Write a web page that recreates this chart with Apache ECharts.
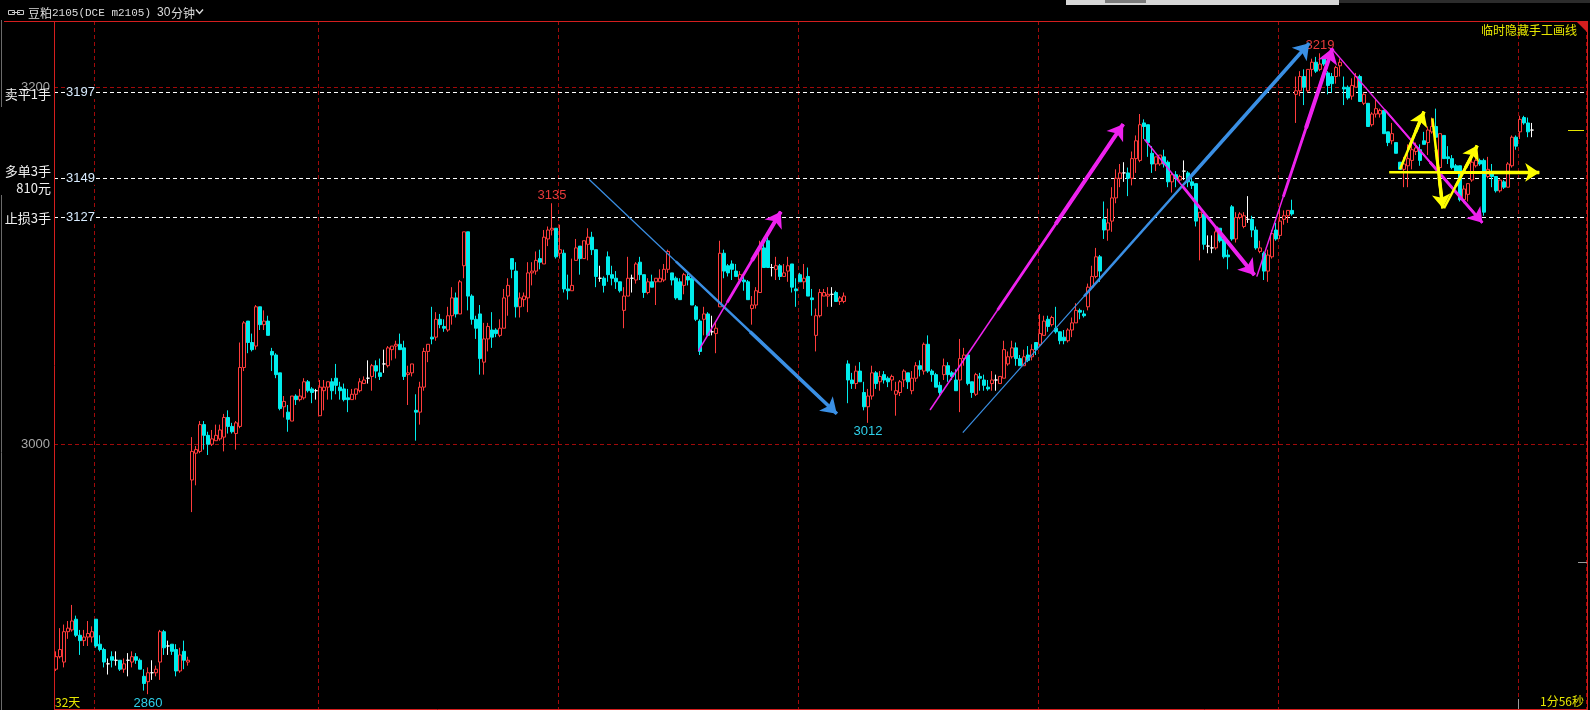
<!DOCTYPE html>
<html><head><meta charset="utf-8">
<script src="https://cdn.jsdelivr.net/npm/echarts@6/dist/echarts.min.js"></script>
<style>html,body{margin:0;padding:0;background:#000;overflow:hidden}#c{width:1590px;height:710px}</style>
</head><body><div id="c"></div>
<script>
// ---------- DATA ----------
const opens = [
2874,2881,2878,2895,2896,2902,2893,2890,2892,2892,
2902,2888,2885,2877,2881,2879,2879,2874,2879,2878,
2881,2879,2870,2867,2872,2872,2878,2895,2887,2888,
2885,2873,2884,2878,2980,2995,2996,3011,3005,3000,
3002,3003,3004,3015,3010,3006,3010,3043,3069,3057,
3055,3077,3067,3069,3052,3050,3040,3021,3018,3013,
3027,3025,3026,3035,3031,3030,3016,3030,3032,3035,
3037,3032,3031,3026,3025,3028,3030,3034,3037,3038,
3044,3040,3045,3044,3053,3055,3056,3054,3039,3040,
3019,3018,3032,3052,3060,3060,3070,3066,3064,3072,
3082,3073,3100,3119,3083,3070,3073,3046,3059,3064,
3064,3061,3065,3083,3104,3097,3077,3081,3082,3096,
3097,3104,3101,3115,3120,3121,3107,3107,3087,3086,
3103,3111,3104,3112,3116,3109,3093,3093,3105,3095,
3093,3091,3075,3083,3093,3092,3102,3095,3085,3091,
3091,3091,3092,3098,3096,3093,3091,3089,3094,3093,
3077,3069,3070,3073,3063,3062,3077,3107,3100,3101,
3097,3092,3092,3091,3076,3078,3085,3110,3114,3099,
3098,3100,3094,3097,3101,3087,3095,3091,3094,3082,
3061,3072,3083,3083,3084,3085,3080,3080,3045,3036,
3034,3041,3029,3021,3027,3040,3035,3039,3037,3036,
3028,3029,3036,3040,3030,3037,3044,3041,3056,3041,
3039,3033,3039,3044,3040,3036,3036,3048,3050,3035,
3028,3038,3036,3032,3034,3036,3034,3037,3045,3049,
3054,3048,3044,3050,3049,3057,3056,3061,3070,3067,
3065,3063,3060,3058,3064,3068,3075,3073,3077,3088,
3094,3105,3126,3120,3125,3138,3149,3152,3152,3149,
3160,3159,3180,3179,3163,3157,3157,3161,3158,3147,
3151,3148,3153,3152,3147,3146,3127,3129,3111,3110,
3110,3121,3115,3106,3133,3115,3127,3122,3126,3126,
3120,3108,3107,3097,3105,3120,3117,3126,3128,3131,
3196,3198,3206,3198,3210,3214,3210,3217,3208,3206,
3206,3212,3200,3200,3195,3200,3206,3191,3191,3179,
3185,3185,3187,3175,3170,3169,3158,3154,3156,3159,
3164,3165,3170,3169,3175,3178,3155,3173,3161,3160,
3156,3156,3137,3140,3148,3156,3159,3159,3150,3152,
3150,3142,3147,3144,3156,3172,3175,3183,3180,3176];
const closes = [
2881,2885,2895,2897,2901,2893,2890,2892,2894,2895,
2887,2885,2878,2877,2879,2879,2874,2877,2879,2881,
2879,2874,2866,2872,2872,2874,2895,2886,2887,2884,
2873,2882,2879,2879,2996,2997,3011,3005,3000,3003,
3005,3008,3015,3010,3007,3012,3043,3068,3057,3053,
3077,3067,3069,3061,3050,3039,3020,3024,3014,3027,
3025,3027,3035,3030,3029,3030,3032,3032,3035,3030,
3033,3030,3025,3025,3028,3031,3035,3036,3037,3044,
3041,3038,3045,3054,3055,3056,3053,3038,3040,3045,
3018,3032,3052,3056,3059,3070,3067,3065,3072,3082,
3073,3091,3119,3083,3070,3065,3048,3059,3066,3060,
3062,3065,3082,3089,3098,3077,3082,3083,3096,3097,
3103,3102,3116,3120,3121,3105,3109,3087,3086,3089,
3110,3104,3114,3116,3109,3094,3093,3089,3095,3093,
3091,3086,3083,3093,3093,3101,3095,3085,3091,3088,
3093,3093,3098,3108,3092,3082,3081,3095,3092,3078,
3070,3052,3073,3061,3063,3065,3107,3097,3096,3098,
3094,3095,3091,3081,3078,3086,3110,3099,3099,3099,
3100,3094,3096,3100,3088,3086,3091,3093,3083,3081,
3072,3085,3085,3084,3084,3080,3082,3083,3036,3034,
3041,3035,3021,3027,3040,3034,3038,3036,3035,3038,
3030,3035,3041,3035,3037,3044,3042,3056,3041,3039,
3032,3029,3044,3039,3038,3030,3048,3050,3034,3029,
3039,3037,3033,3031,3036,3036,3038,3053,3049,3054,
3048,3044,3049,3047,3053,3053,3062,3069,3066,3071,
3063,3058,3058,3064,3068,3075,3074,3072,3088,3094,
3105,3097,3120,3124,3138,3149,3152,3152,3149,3160,
3170,3179,3178,3169,3157,3161,3162,3157,3147,3151,
3149,3150,3153,3147,3145,3125,3130,3112,3111,3110,
3119,3114,3105,3105,3115,3127,3129,3128,3126,3120,
3110,3110,3097,3106,3118,3115,3125,3128,3131,3129,
3198,3206,3200,3210,3214,3209,3213,3213,3201,3202,
3211,3214,3199,3194,3201,3206,3192,3196,3178,3185,
3188,3187,3174,3169,3174,3163,3154,3157,3160,3165,
3166,3159,3168,3176,3178,3172,3174,3160,3160,3155,
3153,3137,3143,3146,3158,3159,3157,3130,3154,3150,
3142,3148,3144,3157,3172,3167,3182,3180,3175,3176];
const lows = [
2873,2880,2875,2891,2895,2892,2882,2887,2887,2889,
2886,2884,2875,2871,2875,2876,2873,2872,2870,2875,
2877,2874,2862,2860,2868,2870,2868,2882,2882,2882,
2870,2872,2874,2876,2962,2977,2995,2997,2994,2999,
3002,3002,2996,3006,3006,2997,3009,3041,3051,3052,
3053,3064,3064,3061,3041,3037,3019,3015,3007,3013,
3022,3024,3025,3029,3023,3025,3016,3019,3025,3025,
3028,3025,3024,3018,3025,3025,3029,3034,3034,3030,
3037,3036,3040,3043,3047,3048,3053,3036,3022,3038,
3002,3011,3030,3046,3056,3058,3065,3063,3063,3067,
3071,3073,3093,3075,3067,3059,3039,3039,3052,3054,
3060,3060,3065,3072,3093,3071,3071,3077,3074,3089,
3095,3098,3101,3111,3117,3104,3104,3085,3081,3086,
3103,3095,3104,3103,3106,3088,3091,3085,3091,3089,
3087,3085,3065,3083,3085,3090,3092,3082,3084,3088,
3078,3091,3091,3096,3089,3081,3081,3084,3089,3078,
3069,3050,3061,3061,3061,3051,3077,3093,3094,3092,
3094,3090,3086,3081,3067,3076,3085,3099,3099,3094,
3092,3092,3094,3091,3085,3077,3091,3087,3083,3072,
3052,3071,3083,3077,3077,3080,3078,3079,3023,3031,
3031,3035,3019,3012,3025,3031,3030,3034,3032,3030,
3016,3027,3032,3031,3028,3035,3038,3039,3040,3035,
3032,3027,3036,3035,3036,3030,3018,3044,3033,3026,
3027,3030,3030,3030,3030,3030,3034,3037,3044,3048,
3044,3044,3044,3046,3047,3050,3055,3061,3063,3066,
3062,3056,3056,3057,3060,3068,3070,3071,3075,3087,
3093,3091,3115,3114,3119,3135,3144,3147,3139,3145,
3152,3158,3171,3161,3152,3153,3156,3155,3144,3141,
3144,3147,3148,3144,3143,3122,3103,3109,3107,3107,
3109,3113,3104,3098,3114,3113,3126,3121,3124,3116,
3109,3107,3092,3091,3104,3114,3115,3123,3124,3128,
3180,3195,3190,3197,3206,3208,3209,3212,3196,3197,
3202,3206,3190,3193,3193,3200,3192,3190,3178,3178,
3183,3183,3174,3167,3168,3163,3154,3144,3144,3154,
3162,3156,3168,3162,3174,3168,3152,3160,3157,3154,
3152,3136,3135,3136,3147,3155,3156,3128,3149,3144,
3141,3141,3143,3144,3155,3165,3171,3179,3172,3172];
const highs = [
2884,2897,2899,2901,2910,2904,2896,2896,2901,2898,
2902,2893,2886,2880,2884,2884,2879,2880,2883,2884,
2883,2880,2874,2875,2879,2876,2896,2896,2890,2888,
2888,2886,2890,2881,3004,2999,3013,3013,3007,3008,
3011,3011,3017,3019,3012,3013,3057,3069,3069,3062,
3078,3077,3075,3072,3054,3051,3040,3027,3022,3027,
3028,3031,3037,3036,3032,3031,3036,3036,3035,3037,
3045,3035,3034,3031,3031,3031,3037,3038,3047,3045,
3047,3048,3053,3055,3055,3058,3062,3058,3044,3045,
3028,3035,3054,3056,3077,3074,3073,3070,3077,3088,
3085,3092,3119,3119,3084,3072,3078,3068,3068,3074,
3065,3070,3087,3093,3104,3102,3085,3085,3102,3102,
3108,3109,3120,3122,3135,3121,3123,3109,3095,3104,
3115,3111,3114,3121,3119,3109,3100,3094,3108,3100,
3097,3091,3088,3105,3095,3102,3105,3095,3093,3095,
3093,3098,3101,3109,3096,3094,3093,3096,3096,3094,
3078,3070,3077,3074,3072,3069,3114,3109,3101,3103,
3101,3097,3095,3092,3083,3088,3114,3113,3116,3101,
3105,3101,3101,3105,3101,3093,3096,3101,3099,3087,
3076,3087,3087,3088,3088,3086,3083,3085,3047,3040,
3044,3046,3035,3031,3044,3041,3041,3041,3038,3039,
3035,3036,3042,3040,3041,3046,3047,3057,3061,3042,
3040,3035,3048,3046,3041,3042,3059,3054,3050,3035,
3040,3040,3039,3036,3041,3039,3038,3058,3052,3058,
3057,3050,3053,3055,3056,3057,3073,3072,3072,3072,
3077,3063,3064,3065,3071,3079,3076,3075,3090,3100,
3110,3106,3136,3132,3144,3154,3157,3158,3155,3164,
3173,3185,3182,3179,3167,3161,3162,3165,3159,3152,
3153,3151,3159,3153,3149,3146,3130,3129,3117,3117,
3120,3121,3115,3109,3134,3130,3130,3130,3139,3128,
3122,3114,3108,3109,3120,3124,3132,3131,3131,3137,
3206,3209,3210,3210,3216,3217,3219,3217,3209,3208,
3212,3216,3206,3201,3205,3208,3207,3197,3191,3186,
3193,3188,3187,3175,3180,3169,3158,3161,3168,3169,
3169,3168,3175,3178,3183,3188,3174,3173,3167,3162,
3157,3156,3145,3146,3161,3163,3160,3160,3161,3157,
3150,3148,3148,3158,3173,3173,3184,3184,3183,3180];

const yTicks = [3000, 3200];
const orderPrices = [3197, 3149, 3127];
const orderLabels = ['卖平1手', '多单3手', '止损3手'];
const orderSubLabels = ['', '810元', ''];
// extreme markers: [candle index, price, above?]
const extremeIdx = [124, 203, 316, 23];
const extremeVal = [3135, 3012, 3219, 2860];
const extremeUp = [true, false, true, false];
// hand-drawn arrows: [x index start, price start, x index end, price end]
const blueArrows = [[133.3, 3148.3, 195.2, 3017.1], [226.7, 3006.5, 313.3, 3224.6]];
const magentaArrows = [[160.6, 3052.3, 181.2, 3130.3], [218.5, 3019.2, 266.8, 3179.3],
  [272.1, 3170.9, 299.6, 3094.8], [300.2, 3093.9, 319.1, 3221.8]];
const magentaThin = [[319.1, 3221.3, 356.6, 3124.1]];
const yellowArrows = [[333.3, 3152.4, 370.8, 3152.3], [336, 3154.1, 342, 3186.3],
  [344.1, 3182.6, 346.7, 3132.2], [347, 3132.2, 355.3, 3167.3]];
const gridSplitIdx = [10, 66, 126, 186, 246, 306, 366];
const bottomLeftText = '32天';
const bottomRightText = '1分56秒';

// ---------- CHART ----------
const SLOTS = 383;
const Y_MIN = 2851.7, Y_MAX = 3237.1;
const RED = '#ff3c3c', CYAN = '#00ecec', GRID_RED = '#a00a0a', BORDER_RED = '#d41e1e';
const cats = Array.from({length: SLOTS}, (_, k) => String(k));
const candleData = opens.map((o, k) => [o, closes[k], lows[k], highs[k]]);

const chart = echarts.init(document.getElementById('c'), null, {renderer: 'canvas', width: 1590, height: 710});

// tapered hand-drawn stroke: thin full stroke + thicker tail portion carrying the arrow head
function part(a, f) { return [a[0] + (a[2] - a[0]) * f, a[1] + (a[3] - a[1]) * f]; }
function arrowSeries(list, color, widths, size) {
  const out = [];
  const fr = [0, 0.35, 0.65];
  widths.forEach((w, k) => {
    const last = k === widths.length - 1;
    out.push({
      type: 'lines', coordinateSystem: 'cartesian2d', xAxisIndex: 1, yAxisIndex: 0,
      silent: true, z: 10, symbol: last ? ['none', 'arrow'] : 'none', symbolSize: size,
      lineStyle: {color: color, width: w, opacity: 1, curveness: 0},
      data: list.map(a => ({coords: [part(a, fr[k]), [a[2], a[3]]]}))
    });
  });
  return out;
}

const markLineData = yTicks.map(v => ({yAxis: v, lineStyle: {color: GRID_RED, type: [4, 3], width: 1}}))
  .concat(orderPrices.map(v => ({yAxis: v, lineStyle: {color: '#ffffff', type: [4, 3], width: 1}})));

const option = {
  backgroundColor: '#000',
  animation: false,
  grid: {left: 54, right: 4, top: 21, bottom: 1, show: false},
  xAxis: [
    {type: 'category', data: cats, boundaryGap: true,
     axisLine: {show: false}, axisTick: {show: false}, axisLabel: {show: false},
     splitLine: {show: true, interval: (idx) => gridSplitIdx.indexOf(idx) >= 0,
                 lineStyle: {color: GRID_RED, type: [4, 3], width: 1}}},
    {type: 'value', min: -0.5, max: SLOTS - 0.5, show: false}
  ],
  yAxis: {type: 'value', min: Y_MIN, max: Y_MAX, position: 'left',
    axisLine: {show: false}, axisTick: {show: false}, splitLine: {show: false},
    axisLabel: {customValues: yTicks, formatter: v => String(Math.round(v)), color: '#a8a8a8', fontSize: 13, margin: 4,
                fontFamily: '"Liberation Sans", Arial, sans-serif'}},
  series: [
    {type: 'candlestick', data: candleData, barWidth: 3, z: 3,
     itemStyle: {color: '#000000', color0: CYAN, borderColor: RED, borderColor0: CYAN,
                 borderColorDoji: '#ffffff', borderWidth: 1},
     markLine: {silent: true, symbol: 'none', label: {show: false}, z: 1, data: markLineData},
     markPoint: {silent: true, symbol: 'circle', symbolSize: 0,
       data: extremeIdx.map((ix, k) => ({
         coord: [ix, extremeVal[k]], itemStyle: {color: 'transparent'},
         label: {show: true, formatter: String(extremeVal[k]), position: 'inside',
                 offset: [0, extremeUp[k] ? -8 : 9],
                 color: extremeUp[k] ? '#e83a3a' : '#2ed0ea', fontSize: 13,
                 fontFamily: '"Liberation Sans", Arial, sans-serif'}
       }))}
    }
  ].concat(
    arrowSeries(blueArrows, '#3a8fe4', [1.2, 2.4, 3.6], 15),
    arrowSeries(magentaArrows, '#ee22ee', [1.5, 2.8, 4], 15),
    arrowSeries(magentaThin, '#ee22ee', [1.3, 2, 2.8], 14),
    arrowSeries(yellowArrows, '#ffff00', [2.5, 3, 3.4], 14)
  )
};
chart.setOption(option);

// ---------- overlay texts / frame ----------
const yp = v => chart.convertToPixel({yAxisIndex: 0}, v);
const CJK = '"Noto Sans CJK SC", sans-serif';
const g = [];
function txt(x, y, text, fill, font, align, extra) {
  g.push({type: 'text', x: x, y: y, z: 100, silent: true,
    style: Object.assign({text: text, fill: fill, font: font, textAlign: align || 'left',
      textVerticalAlign: 'middle', align: align || 'left', verticalAlign: 'middle'}, extra || {})});
}
function line(x1, y1, x2, y2, stroke, w) {
  g.push({type: 'line', z: 90, silent: true, shape: {x1, y1, x2, y2}, style: {stroke: stroke, lineWidth: w || 1}});
}
// top strip
g.push({type: 'rect', z: 90, silent: true, shape: {x: 1066, y: 0, width: 273, height: 5}, style: {fill: '#d6d6d6'}});
g.push({type: 'rect', z: 91, silent: true, shape: {x: 1105, y: 0, width: 41, height: 3}, style: {fill: '#7a7a7a'}});
g.push({type: 'rect', z: 90, silent: true, shape: {x: 1339, y: 0, width: 251, height: 3}, style: {fill: '#2c2c2c'}});
// frame
line(4, 21.5, 1588, 21.5, BORDER_RED, 1);
line(54.5, 21, 54.5, 710, BORDER_RED, 1);
line(54, 709.5, 1588, 709.5, BORDER_RED, 1);
line(1587.5, 21, 1587.5, 710, BORDER_RED, 1);
line(1.5, 20, 1.5, 107, '#6a6a6a', 1);
line(1.5, 195, 1.5, 710, '#6a6a6a', 1);
g.push({type: 'polygon', z: 92, silent: true, shape: {points: [[1577, 22], [1587, 22], [1587, 32]]}, style: {fill: '#d41e1e'}});
// right-side marks
const lastClose = closes[closes.length - 1];
line(1568, Math.round(yp(lastClose)) + 0.5, 1584, Math.round(yp(lastClose)) + 0.5, '#e6e600', 1);
line(1578, 562.5, 1587, 562.5, '#9a9a9a', 1);
line(1518.5, 699, 1518.5, 709, '#9a9a9a', 1);
// title bar
g.push({type: 'rect', z: 92, silent: true, shape: {x: 8.5, y: 10.5, width: 6, height: 4}, style: {fill: null, stroke: '#c8c8c8', lineWidth: 1}});
g.push({type: 'rect', z: 92, silent: true, shape: {x: 17.5, y: 10.5, width: 6, height: 4}, style: {fill: null, stroke: '#c8c8c8', lineWidth: 1}});
line(12, 12.5, 20, 12.5, '#c8c8c8', 1);
txt(28, 13, '豆粕', '#dcdcdc', '12px ' + CJK);
txt(52, 13, '2105(DCE m2105)', '#dcdcdc', '11px "Liberation Mono", monospace');
txt(157, 13, '30', '#dcdcdc', '12px "Liberation Sans", Arial');
txt(171, 13, '分钟', '#dcdcdc', '12px ' + CJK);
g.push({type: 'polyline', z: 92, silent: true, shape: {points: [[196, 9.5], [199.5, 13.5], [203, 9.5]]}, style: {stroke: '#dcdcdc', lineWidth: 1.4, fill: null}});
txt(1577, 30, '临时隐藏手工画线', '#e6e600', '12px ' + CJK, 'right');
// order lines labels
orderPrices.forEach((p, k) => {
  const y = yp(p);
  const hasSub = !!orderSubLabels[k];
  txt(51, hasSub ? y - 7 : y + 1, orderLabels[k], '#f0f0f0', '13px ' + CJK, 'right');
  if (hasSub) txt(51, y + 10, orderSubLabels[k], '#f0f0f0', '13px ' + CJK, 'right');
  txt(65, y, String(p), '#d8ecff', '13px "Liberation Sans", Arial', 'left', {backgroundColor: '#000', padding: [0, 1, 0, 1]});
});
// bottom corners
txt(55, 702, bottomLeftText, '#e6e600', '12px ' + CJK);
txt(1584, 701, bottomRightText, '#e6e600', '12px ' + CJK, 'right');
chart.setOption({graphic: {elements: g}});
</script>
</body></html>
